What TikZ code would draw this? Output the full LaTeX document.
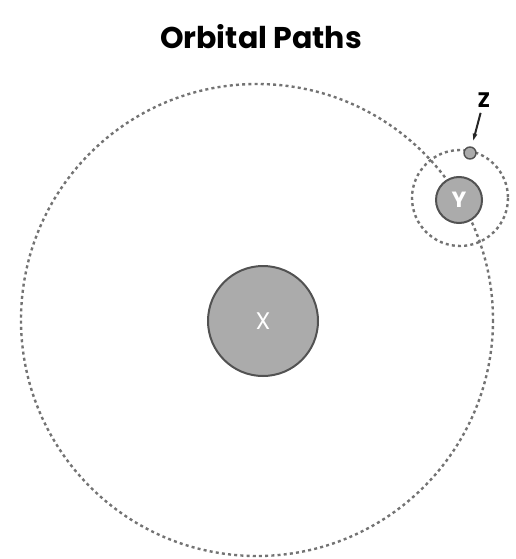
\documentclass[tikz,border=0pt]{standalone}
\usepackage{fontspec}
\setmainfont{Poppins}
\usetikzlibrary{arrows.meta}

\begin{document}
\begin{tikzpicture}[
    x=1pt, y=-1pt,
    orbit/.style={draw=black!55, line width=2.4pt, dash pattern=on 3pt off 3.2pt},
    body/.style={circle, draw=black!68, line width=2pt, fill=black!33, text=white, inner sep=0pt},
    arr/.style={-{Latex[length=8pt,width=5pt]}, line width=2pt, draw=black!85, shorten >=5pt, shorten <=2pt}
]
\useasboundingbox (0,0) rectangle (516,559);
\node[font=\bfseries\fontsize{30}{32}\selectfont] (title) at (261,37) {Orbital Paths};

% orbits
\coordinate (sun) at (257,320);
\coordinate (moonc) at (460,198);
\draw[orbit] (sun) circle (236);
\draw[orbit] (moonc) circle (48);

% bodies
\node[body, minimum size=110pt, font=\fontsize{24}{24}\selectfont] (x) at (263,321) {X};
\node[body, minimum size=46pt, font=\bfseries\fontsize{22}{22}\selectfont] (y) at (459,200) {Y};
\node[body, minimum size=12pt, line width=1.4pt] (z) at (470,153) {};
\node[font=\bfseries\fontsize{21}{21}\selectfont] (zlabel) at (484,100) {Z};

\draw[arr] (zlabel) -- (z);
\end{tikzpicture}
\end{document}
